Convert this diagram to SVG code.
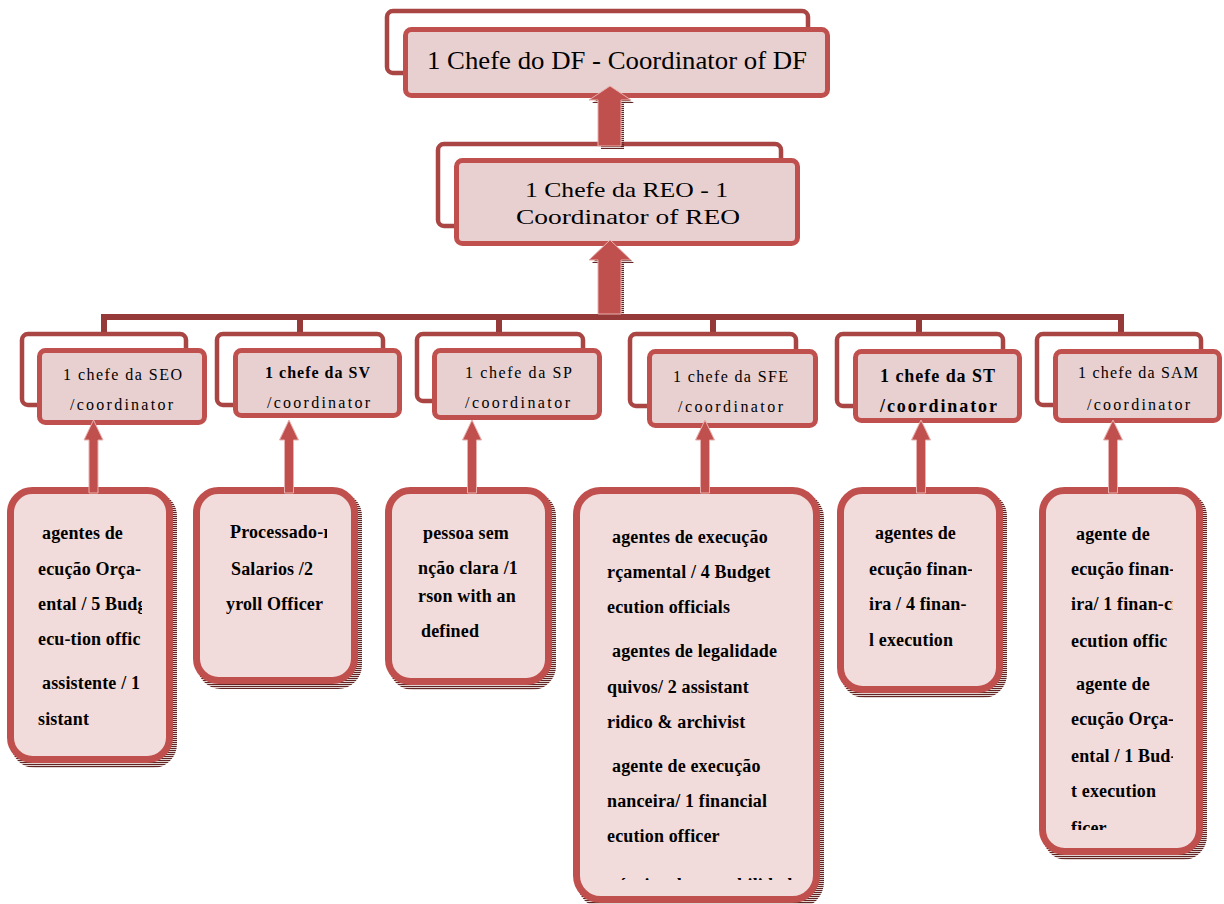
<svg xmlns="http://www.w3.org/2000/svg" width="1224" height="904" viewBox="0 0 1224 904">
<defs>
<style>
.back{fill:none;stroke:#a94543;stroke-width:4.5}
.front{fill:#e8d0d0;stroke:#c0504d;stroke-width:5}
.box{fill:#f2dcdb;stroke:#c0504d;stroke-width:7}
.shadow{fill:url(#stripes)}
.arrow{fill:#c0504d;stroke:#e8b0ae;stroke-width:1}
.ashadow{fill:url(#stripes)}
.bar{fill:none;stroke:#953a38;stroke-width:6}
.t{font-family:"Liberation Serif","Times New Roman",serif;fill:#000}
.big{font-size:26px}
.mid{font-size:22px}
.h{font-size:16px}
.hb{font-size:18px;font-weight:bold}
.b{font-size:18px;font-weight:bold;letter-spacing:0.15px}
</style>
<pattern id="stripes" width="4" height="2" patternUnits="userSpaceOnUse"><rect width="4" height="1.2" fill="#632523"/></pattern>
<clipPath id="cSEO"><rect x="38" y="495" width="104" height="262"/></clipPath>
<clipPath id="cSV"><rect x="225" y="495" width="102" height="182"/></clipPath>
<clipPath id="cSP"><rect x="417" y="495" width="101" height="182"/></clipPath>
<clipPath id="cSFE"><rect x="607" y="495" width="195" height="385"/></clipPath>
<clipPath id="cST"><rect x="869" y="495" width="103" height="177"/></clipPath>
<clipPath id="cSAM"><rect x="1071" y="495" width="102" height="335"/></clipPath>
</defs>
<rect width="1224" height="904" fill="#ffffff"/>

<g id="connectors">
<path class="bar" d="M104,334 V317 H1121 V334 M300,317 V334 M499,317 V334 M713,317 V334 M919,317 V334"/>
</g>

<g id="node-df">
<rect class="back" x="387" y="11" width="421" height="62" rx="6"/>
<rect class="front" x="405.5" y="29.5" width="422" height="66" rx="6"/>
<text class="t big" x="427" y="69" textLength="380" lengthAdjust="spacingAndGlyphs">1 Chefe do DF - Coordinator of DF</text>
</g>

<g id="node-reo">
<rect class="back" x="438" y="144" width="343" height="82" rx="6"/>
<rect class="front" x="456.5" y="160.5" width="341" height="83" rx="6"/>
<text class="t mid" x="525" y="197" textLength="203" lengthAdjust="spacingAndGlyphs">1 Chefe da REO - 1</text>
<text class="t mid" x="516" y="224" textLength="224" lengthAdjust="spacingAndGlyphs">Coordinator  of REO</text>
</g>

<g id="arrows-big">
<polygon class="ashadow" points="613,89 634,103 624,103 624,149 601,149 601,103 592,103"/>
<polygon class="arrow" points="610,86 631,100 621,100 621,146 598,146 598,100 589,100"/>
<polygon class="ashadow" points="613,243 634,263 624,263 624,314 601,314 601,263 592,263"/>
<polygon class="arrow" points="610,240 631,260 621,260 621,314 598,314 598,260 589,260"/>
</g>

<g id="node-h-seo">
<rect class="back" x="22" y="334" width="164" height="71" rx="6"/>
<rect class="front" x="39.5" y="350.5" width="165" height="72" rx="6"/>
<text class="t h" x="63" y="380" textLength="119" lengthAdjust="spacing">1 chefe da SEO</text>
<text class="t h" x="70" y="410" textLength="103" lengthAdjust="spacing">/coordinator</text>
</g>
<g id="node-h-sv">
<rect class="back" x="217" y="334" width="166" height="71" rx="6"/>
<rect class="front" x="235.5" y="350.5" width="164" height="65" rx="6"/>
<text class="t h" x="265" y="378" textLength="105" lengthAdjust="spacing" font-weight="bold">1 chefe da SV</text>
<text class="t h" x="267" y="408" textLength="103" lengthAdjust="spacing">/coordinator</text>
</g>
<g id="node-h-sp">
<rect class="back" x="417" y="334" width="166" height="67" rx="6"/>
<rect class="front" x="434.5" y="350.5" width="165" height="67" rx="6"/>
<text class="t h" x="465" y="378" textLength="107" lengthAdjust="spacing">1 chefe da SP</text>
<text class="t h" x="465" y="408" textLength="105" lengthAdjust="spacing">/coordinator</text>
</g>
<g id="node-h-sfe">
<rect class="back" x="630" y="334" width="166" height="72" rx="6"/>
<rect class="front" x="649.5" y="351.5" width="166" height="74" rx="6"/>
<text class="t h" x="673" y="382" textLength="115" lengthAdjust="spacing">1 chefe da SFE</text>
<text class="t h" x="678" y="412" textLength="105" lengthAdjust="spacing">/coordinator</text>
</g>
<g id="node-h-st">
<rect class="back" x="837" y="334" width="166" height="72" rx="6"/>
<rect class="front" x="855.5" y="351.5" width="164" height="69" rx="6"/>
<text class="t hb" x="880" y="382" textLength="115" lengthAdjust="spacing">1 chefe da ST</text>
<text class="t hb" x="880" y="412" textLength="117" lengthAdjust="spacing">/coordinator</text>
</g>
<g id="node-h-sam">
<rect class="back" x="1037" y="334" width="164" height="71" rx="6"/>
<rect class="front" x="1055.5" y="351.5" width="164" height="69" rx="6"/>
<text class="t h" x="1078" y="378" textLength="120" lengthAdjust="spacing">1 chefe da SAM</text>
<text class="t h" x="1087" y="410" textLength="103" lengthAdjust="spacing">/coordinator</text>
</g>

<g id="node-b-seo">
<rect class="shadow" x="11" y="492" width="166" height="276" rx="24"/>
<rect class="box" x="10.5" y="490.5" width="159" height="269" rx="22"/>
<g clip-path="url(#cSEO)" class="t b">
<text x="42" y="539">agentes  de</text>
<text x="38" y="575">ecução Orça-</text>
<text x="38" y="610">ental / 5 Budg</text>
<text x="38" y="645">ecu-tion offic</text>
<text x="42" y="689">assistente / 1</text>
<text x="38" y="725">sistant</text>
</g>
</g>
<g id="node-b-sv">
<rect class="shadow" x="197" y="492" width="165" height="197" rx="24"/>
<rect class="box" x="196.5" y="490.5" width="158" height="190" rx="22"/>
<g clip-path="url(#cSV)" class="t b">
<text x="230" y="538">Processado-r</text>
<text x="231" y="575">Salarios /2</text>
<text x="226" y="610">yroll Officer</text>
</g>
</g>
<g id="node-b-sp">
<rect class="shadow" x="389" y="492" width="167" height="198" rx="24"/>
<rect class="box" x="388.5" y="490.5" width="160" height="191" rx="22"/>
<g clip-path="url(#cSP)" class="t b">
<text x="423" y="539">pessoa sem</text>
<text x="418" y="574">nção clara /1</text>
<text x="418" y="602">rson with an</text>
<text x="421" y="637">defined</text>
</g>
</g>
<g id="node-b-sfe">
<rect class="shadow" x="577" y="492" width="247" height="416" rx="26"/>
<rect class="box" x="576.5" y="490.5" width="240" height="409" rx="24"/>
<g clip-path="url(#cSFE)" class="t b">
<text x="612" y="543">agentes  de execução</text>
<text x="607" y="578">rçamental / 4 Budget</text>
<text x="607" y="613">ecution officials</text>
<text x="612" y="657">agentes de legalidade</text>
<text x="607" y="693">quivos/ 2 assistant</text>
<text x="607" y="728">ridico &amp; archivist</text>
<text x="612" y="772">agente de execução</text>
<text x="607" y="807">nanceira/ 1 financial</text>
<text x="607" y="842">ecution  officer</text>
<text x="612" y="891">técnico de contabilidade</text>
</g>
</g>
<g id="node-b-st">
<rect class="shadow" x="841" y="492" width="166" height="206" rx="24"/>
<rect class="box" x="840.5" y="490.5" width="159" height="199" rx="22"/>
<g clip-path="url(#cST)" class="t b">
<text x="875" y="539">agentes  de</text>
<text x="869" y="575">ecução finan-</text>
<text x="869" y="610">ira / 4 finan-</text>
<text x="869" y="646">l execution</text>
</g>
</g>
<g id="node-b-sam">
<rect class="shadow" x="1043" y="492" width="164" height="368" rx="24"/>
<rect class="box" x="1042.5" y="490.5" width="157" height="361" rx="22"/>
<g clip-path="url(#cSAM)" class="t b">
<text x="1076" y="540">agente de</text>
<text x="1071" y="575">ecução finan-</text>
<text x="1071" y="610">ira/ 1 finan-ci</text>
<text x="1071" y="647">ecution  offic</text>
<text x="1076" y="690">agente  de</text>
<text x="1071" y="725">ecução Orça-</text>
<text x="1071" y="762">ental / 1 Bud-</text>
<text x="1071" y="797">t execution</text>
<text x="1071" y="834">ficer</text>
</g>
</g>

<g id="arrows-small">
<polygon class="arrow" points="93.5,420 103,440 98,440 98,493 89,493 89,440 84,440"/>
<polygon class="arrow" points="289,420 298.5,440 293.5,440 293.5,493 284.5,493 284.5,440 279.5,440"/>
<polygon class="arrow" points="472,420 481.5,440 476.5,440 476.5,493 467.5,493 467.5,440 462.5,440"/>
<polygon class="arrow" points="705,420 714.5,440 709.5,440 709.5,493 700.5,493 700.5,440 695.5,440"/>
<polygon class="arrow" points="921,420 930.5,440 925.5,440 925.5,493 916.5,493 916.5,440 911.5,440"/>
<polygon class="arrow" points="1113,420 1122.5,440 1117.5,440 1117.5,493 1108.5,493 1108.5,440 1103.5,440"/>
</g>
</svg>
